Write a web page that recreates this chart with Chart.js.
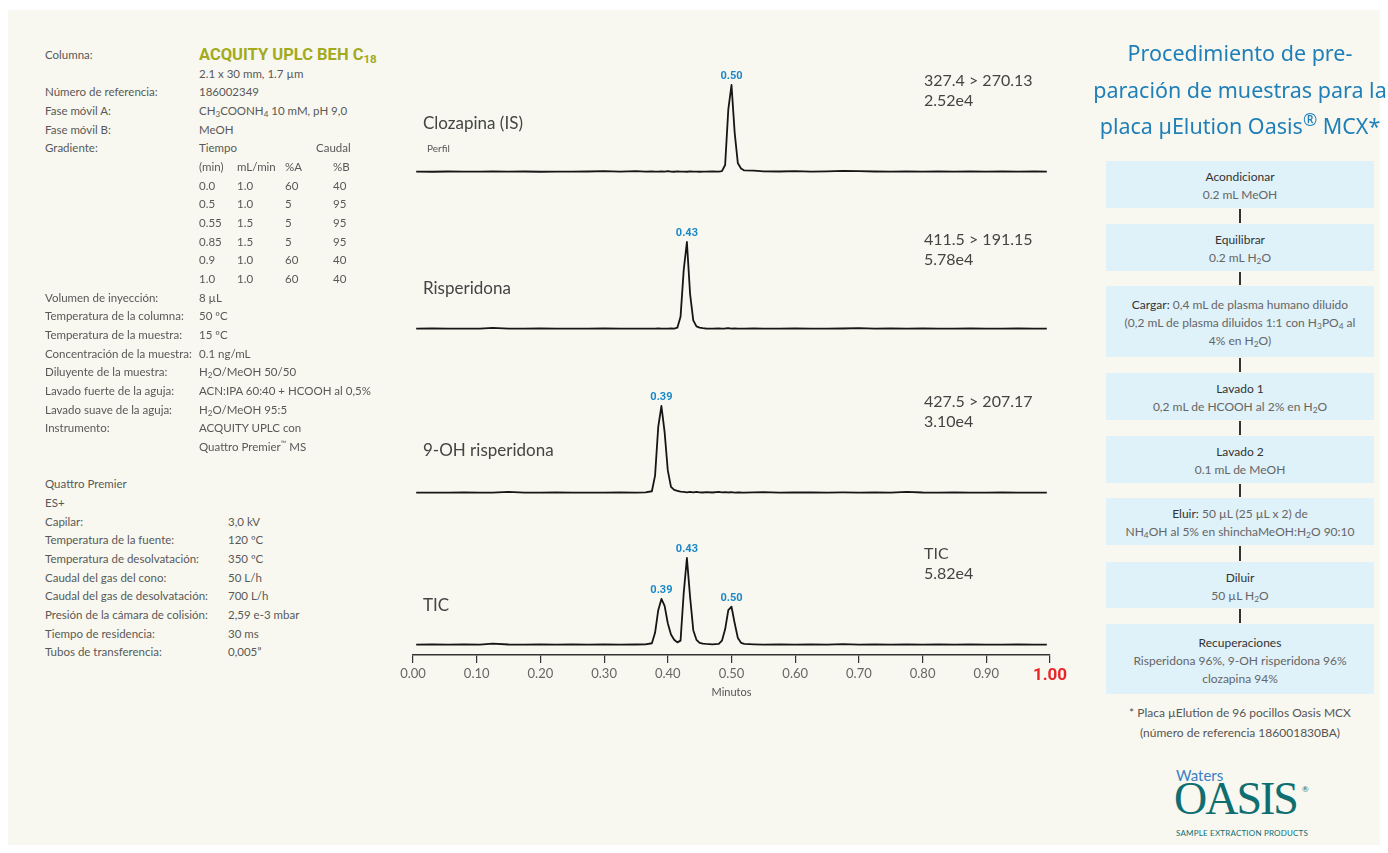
<!DOCTYPE html>
<html lang="es">
<head>
<meta charset="utf-8">
<title>Risperidona y 9-OH risperidona en plasma</title>
<script src="https://cdn.jsdelivr.net/npm/chart.js@4.4.1/dist/chart.umd.min.js"></script>
<style>
  body { margin: 0; background: #fff; font-family: Lato, 'Noto Sans', sans-serif; color: #555; }
  #sheet { position: absolute; left: 8px; top: 10px; width: 1372px; height: 835px; background: #f8f8f0; }
  .p { position: absolute; font-size: 11.5px; line-height: 16px; white-space: nowrap; color: #585858; }
  .p sub, .box sub { font-size: 0.7em; vertical-align: -0.25em; line-height: 0; }
  .p sup { font-size: 0.65em; line-height: 0; }
  .col-title { font-family: Roboto, sans-serif; font-weight: bold; font-size: 16.5px; color: #a2aa1d; }
  .col-title sub { font-size: 0.7em; vertical-align: -0.3em; }
  .name { position: absolute; font-size: 17px; line-height: 20px; color: #444; white-space: nowrap; }
  .mz { position: absolute; font-size: 16px; line-height: 19.5px; color: #444; white-space: nowrap; }
  .perfil { position: absolute; font-size: 10px; line-height: 12px; color: #555; }
  #heading { position: absolute; left: 1070px; top: 35px; width: 340px; text-align: center;
             font-family: 'Noto Sans', sans-serif; font-size: 21.5px; line-height: 36.5px; color: #1f7fb8; }
  #heading sup { font-size: 0.8em; line-height: 0; }
  .box { position: absolute; left: 1106px; width: 268px; background: #dff1f9; text-align: center;
         font-size: 12px; line-height: 18px; color: #666; box-sizing: border-box; }
  .box b { font-weight: normal; color: #333; }
  .link { position: absolute; left: 1239px; width: 2px; background: #333; }
  .foot { position: absolute; left: 1090px; width: 300px; text-align: center; font-size: 12px; line-height: 20px; color: #555; }
  #logo { position: absolute; left: 1176px; top: 766px; width: 140px; height: 75px; color: #0f6e70; }
  #logo .w { position: absolute; left: 0; top: 0; font-size: 15px; color: #3a80c5; }
  #logo .o { position: absolute; left: -2px; top: 10px; font-family: 'Liberation Serif', serif; font-size: 46px;
             line-height: 46px; letter-spacing: -2px; }
  #logo .r { position: absolute; left: 126px; top: 18px; font-size: 8px; }
  #logo .s { position: absolute; left: 0; top: 62px; font-size: 8px; letter-spacing: 0.2px; white-space: nowrap; }
</style>
</head>
<body>
<div id="sheet"></div>

<canvas id="chrom" width="720" height="650" style="position:absolute;left:380px;top:50px;width:720px;height:650px"></canvas>

<div class="name" style="left:423px;top:113px">Clozapina (IS)</div>
<div class="perfil" style="left:427px;top:142px">Perfil</div>
<div class="name" style="left:423px;top:278px">Risperidona</div>
<div class="name" style="left:423px;top:440px">9-OH risperidona</div>
<div class="name" style="left:423px;top:595px">TIC</div>

<div class="mz" style="left:924px;top:70px">327.4 &gt; 270.13<br>2.52e4</div>
<div class="mz" style="left:924px;top:229px">411.5 &gt; 191.15<br>5.78e4</div>
<div class="mz" style="left:924px;top:391px">427.5 &gt; 207.17<br>3.10e4</div>
<div class="mz" style="left:924px;top:543px">TIC<br>5.82e4</div>

<div id="heading">Procedimiento de pre-<br>paración de muestras para la<br>placa µElution Oasis<sup>®</sup> MCX*</div>

<div class="foot" style="top:703px">* Placa µElution de 96 pocillos Oasis MCX<br>(número de referencia 186001830BA)</div>

<div id="logo">
  <div class="w">Waters</div>
  <div class="o">OASIS</div>
  <div class="r">®</div>
  <div class="s">SAMPLE EXTRACTION PRODUCTS</div>
</div>

<script>
// chromatogram data: retention time (min) and relative intensity (%)
const minutes = [
  0.005, 0.03, 0.055, 0.08, 0.105, 0.125, 0.15, 0.175, 0.2, 0.225, 0.25, 0.275, 0.3, 0.325, 0.35, 0.365,
  0.375, 0.38, 0.385, 0.39, 0.395, 0.40, 0.405, 0.41, 0.415, 0.42, 0.425, 0.43, 0.435, 0.44, 0.445, 0.45,
  0.455, 0.46, 0.47, 0.48, 0.485, 0.49, 0.495, 0.50, 0.505, 0.51, 0.515, 0.52,
  0.535, 0.55, 0.575, 0.6, 0.625, 0.65, 0.675, 0.7, 0.725, 0.75, 0.775, 0.8, 0.825, 0.85, 0.875, 0.9,
  0.925, 0.95, 0.975, 0.995
];
const clozapina = [
  0.5, 0.3, 0.6, 0.4, 0.5, 0.7, 0.4, 0.6, 0.3, 0.5, 0.4, 0.6, 1.1, 0.4, 1.0, 0.5,
  0.6, 0.4, 0.5, 0.7, 0.4, 1.1, 0.5, 0.3, 0.6, 0.4, 0.5, 0.3, 0.6, 0.4, 0.5, 0.3,
  0.5, 0.4, 0.6, 0.5, 1.0, 8, 72, 100, 45, 10, 4, 1.8,
  1.5, 0.8, 0.6, 1.0, 0.5, 0.7, 1.2, 1.1, 0.6, 0.5, 0.8, 0.4, 0.6, 0.5, 0.7, 0.4,
  0.6, 0.5, 0.8, 0.5
];
const risperidona = [
  0.4, 0.6, 0.4, 0.5, 0.5, 1.3, 0.5, 0.4, 0.6, 0.4, 0.5, 0.4, 0.6, 0.4, 0.5, 0.4,
  0.5, 0.4, 0.6, 0.4, 0.5, 0.4, 0.6, 0.5, 1.5, 14, 68, 100, 40, 10, 3, 1.5,
  0.9, 0.6, 0.5, 0.6, 0.4, 0.6, 1.1, 0.5, 0.6, 0.4, 0.5, 0.4,
  0.6, 0.5, 0.4, 0.6, 0.5, 0.4, 0.6, 1.1, 0.5, 0.6, 0.4, 0.6, 0.5, 0.4, 0.6, 0.5,
  0.4, 0.6, 0.5, 0.4
];
const hidroxiRisperidona = [
  0.4, 0.5, 0.4, 0.6, 0.4, 0.5, 1.2, 0.5, 0.4, 0.6, 0.4, 0.5, 0.4, 0.6, 0.5, 0.8,
  2, 20, 76, 100, 70, 26, 7, 3.5, 2.5, 1.5, 1.2, 0.8, 1.4, 0.6, 1.2, 0.8,
  0.6, 0.9, 0.6, 1.2, 0.8, 1.0, 0.6, 0.9, 0.5, 0.8, 0.6, 0.5,
  0.7, 1.1, 0.5, 0.8, 0.6, 0.5, 0.7, 0.5, 0.6, 0.5, 1.3, 0.6, 0.4, 0.6, 0.5, 0.4,
  0.6, 0.5, 0.4, 0.5
];
const tic = [
  0.5, 0.7, 0.4, 0.6, 0.5, 1.5, 0.6, 0.4, 0.7, 0.5, 0.6, 0.4, 0.7, 0.5, 0.6, 0.8,
  2, 14, 40, 53, 45, 25, 12, 6, 3, 5, 60, 100, 55, 17, 6, 2.5,
  1.5, 1.2, 0.8, 1.2, 5, 18, 40, 44, 25, 8, 2.5, 1.2,
  0.8, 0.5, 0.7, 0.4, 0.6, 0.5, 0.9, 0.5, 0.6, 0.4, 0.7, 0.5, 0.6, 0.4, 0.6, 0.5,
  0.4, 0.6, 0.5, 0.4
];
const clozapinaPeaks = [0.50];
const risperidonaPeaks = [0.43];
const hidroxiPeaks = [0.39];
const ticPeaks = [0.39, 0.43, 0.50];
const xTicks = [0, 0.1, 0.2, 0.3, 0.4, 0.5, 0.6, 0.7, 0.8, 0.9, 1.0];

// left column: chromatographic conditions
const ROW_Y = 55, ROW_H = 18.67;
function put(html, x, row, cls) {
  const d = document.createElement('div');
  d.className = 'p' + (cls ? ' ' + cls : '');
  d.style.left = x + 'px';
  d.style.top = (ROW_Y + row * ROW_H - 8) + 'px';
  d.innerHTML = html;
  document.body.appendChild(d);
}
const conditions = [
  [0, 'Columna:', ''],
  [1, '', '2.1 x 30 mm, 1.7 µm'],
  [2, 'Número de referencia:', '186002349'],
  [3, 'Fase móvil A:', 'CH<sub>3</sub>COONH<sub>4</sub> 10 mM, pH 9,0'],
  [4, 'Fase móvil B:', 'MeOH'],
  [5, 'Gradiente:', 'Tiempo'],
  [13, 'Volumen de inyección:', '8 µL'],
  [14, 'Temperatura de la columna:', '50 ºC'],
  [15, 'Temperatura de la muestra:', '15 ºC'],
  [16, 'Concentración de la muestra:', '0.1 ng/mL'],
  [17, 'Diluyente de la muestra:', 'H<sub>2</sub>O/MeOH 50/50'],
  [18, 'Lavado fuerte de la aguja:', 'ACN:IPA 60:40 + HCOOH al 0,5%'],
  [19, 'Lavado suave de la aguja:', 'H<sub>2</sub>O/MeOH 95:5'],
  [20, 'Instrumento:', 'ACQUITY UPLC con'],
  [21, '', 'Quattro Premier<sup>™</sup> MS']
];
conditions.forEach(r => { if (r[1]) put(r[1], 45, r[0]); if (r[2]) put(r[2], 199, r[0]); });
put('ACQUITY UPLC BEH C<sub>18</sub>', 199, 0, 'col-title');
put('Caudal', 316, 5);
const gradient = [
  ['(min)', 'mL/min', '%A', '%B'],
  ['0.0', '1.0', '60', '40'],
  ['0.5', '1.0', '5', '95'],
  ['0.55', '1.5', '5', '95'],
  ['0.85', '1.5', '5', '95'],
  ['0.9', '1.0', '60', '40'],
  ['1.0', '1.0', '60', '40']
];
const gradX = [199, 237, 285, 333];
gradient.forEach((r, i) => r.forEach((c, j) => put(c, gradX[j], 6 + i)));

const msRows = [
  ['Quattro Premier', ''],
  ['ES+', ''],
  ['Capilar:', '3,0 kV'],
  ['Temperatura de la fuente:', '120 ºC'],
  ['Temperatura de desolvatación:', '350 ºC'],
  ['Caudal del gas del cono:', '50 L/h'],
  ['Caudal del gas de desolvatación:', '700 L/h'],
  ['Presión de la cámara de colisión:', '2,59 e-3 mbar'],
  ['Tiempo de residencia:', '30 ms'],
  ['Tubos de transferencia:', '0,005”']
];
msRows.forEach((r, i) => { put(r[0], 45, 23 + i); if (r[1]) put(r[1], 228, 23 + i); });

// right column: sample preparation steps
const steps = [
  [161, 47, '<b>Acondicionar</b><br>0.2 mL MeOH'],
  [224, 47, '<b>Equilibrar</b><br>0.2 mL H<sub>2</sub>O'],
  [286, 71, '<b>Cargar:</b> 0,4 mL de plasma humano diluido<br>(0,2 mL de plasma diluidos 1:1 con H<sub>3</sub>PO<sub>4</sub> al<br>4% en H<sub>2</sub>O)'],
  [373, 47, '<b>Lavado 1</b><br>0,2 mL de HCOOH al 2% en H<sub>2</sub>O'],
  [436, 47, '<b>Lavado 2</b><br>0.1 mL de MeOH'],
  [498, 47, '<b>Eluir:</b> 50 µL (25 µL x 2) de<br>NH<sub>4</sub>OH al 5% en shinchaMeOH:H<sub>2</sub>O 90:10'],
  [562, 46, '<b>Diluir</b><br>50 µL H<sub>2</sub>O'],
  [624, 70, '<b>Recuperaciones</b><br>Risperidona 96%, 9-OH risperidona 96%<br>clozapina 94%']
];
steps.forEach((s, i) => {
  const b = document.createElement('div');
  b.className = 'box';
  b.style.top = s[0] + 'px';
  b.style.height = s[1] + 'px';
  b.style.paddingTop = (s[1] > 60 ? 10 : 7) + 'px';
  b.innerHTML = s[2];
  document.body.appendChild(b);
  if (i < steps.length - 1) {
    const l = document.createElement('div');
    l.className = 'link';
    l.style.top = (s[0] + s[1] + 1) + 'px';
    l.style.height = (steps[i + 1][0] - s[0] - s[1] - 2) + 'px';
    document.body.appendChild(l);
  }
});

// chromatogram traces, stacked from top to bottom
const traces = [
  { values: clozapina, peaks: clozapinaPeaks, base: 483 },
  { values: risperidona, peaks: risperidonaPeaks, base: 326 },
  { values: hidroxiRisperidona, peaks: hidroxiPeaks, base: 162 },
  { values: tic, peaks: ticPeaks, base: 10 }
];
const GAIN = 0.87;

const peakLabels = {
  id: 'peakLabels',
  afterDatasetsDraw(chart) {
    const ctx = chart.ctx;
    ctx.save();
    ctx.fillStyle = '#1b88c8';
    ctx.font = "bold 11px 'Liberation Sans Narrow', Roboto, sans-serif";
    ctx.textAlign = 'center';
    ctx.textBaseline = 'bottom';
    traces.forEach((tr, di) => {
      const meta = chart.getDatasetMeta(di);
      tr.peaks.forEach(t => {
        const pt = meta.data[minutes.indexOf(t)];
        if (pt) ctx.fillText(t.toFixed(2), pt.x, pt.y - 3);
      });
    });
    ctx.restore();
  }
};

const isLast = c => !!(c && c.tick && Math.abs(c.tick.value - 1) < 1e-6);

new Chart(document.getElementById('chrom'), {
  type: 'line',
  data: {
    datasets: traces.map(tr => ({
      data: minutes.map((t, i) => ({ x: t, y: tr.base + tr.values[i] * GAIN })),
      borderColor: '#161616',
      borderWidth: 1.8,
      borderJoinStyle: 'round',
      pointRadius: 0,
      tension: 0,
      fill: false
    }))
  },
  options: {
    responsive: false,
    animation: false,
    devicePixelRatio: 1,
    layout: { padding: { left: 33, right: 50, top: 10, bottom: 0 } },
    scales: {
      x: {
        type: 'linear',
        min: 0,
        max: 1,
        afterBuildTicks: s => { s.ticks = xTicks.map(v => ({ value: v })); },
        afterFit: s => { s.height = 45; },
        border: { display: true, color: '#333', width: 1.5 },
        grid: { drawOnChartArea: false, drawTicks: true, tickLength: 8, color: '#333', lineWidth: 1.2 },
        ticks: {
          autoSkip: false,
          maxRotation: 0,
          padding: 3,
          callback: v => v.toFixed(2),
          color: c => isLast(c) ? '#e8262a' : '#666',
          font: c => isLast(c)
            ? { family: 'Roboto, sans-serif', size: 17, weight: 'bold' }
            : { family: 'Lato, sans-serif', size: 13 }
        },
        title: {
          display: true,
          text: 'Minutos',
          color: '#555',
          font: { family: 'Lato, sans-serif', size: 11 },
          padding: { top: 0, bottom: 1 }
        }
      },
      y: { display: false, min: 0, max: 595 }
    },
    plugins: {
      legend: { display: false },
      tooltip: { enabled: false }
    }
  },
  plugins: [peakLabels]
});
</script>
</body>
</html>
